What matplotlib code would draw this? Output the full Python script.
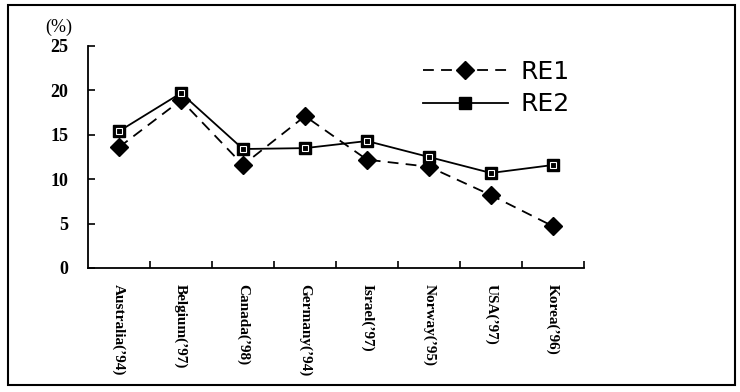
import matplotlib
matplotlib.use('Agg')
import matplotlib.pyplot as plt
from matplotlib.patches import Rectangle

countries = ["Australia(’94)", "Belgium(’97)", "Canada(’98)", "Germany(’94)",
             "Israel(’97)", "Norway(’95)", "USA(’97)", "Korea(’96)"]
re1 = [13.6, 18.9, 11.6, 17.1, 12.2, 11.4, 8.2, 4.7]
re2 = [15.4, 19.7, 13.4, 13.5, 14.3, 12.5, 10.7, 11.6]

fig = plt.figure(figsize=(7.4, 3.92), dpi=100)
ax = fig.add_axes([88 / 740, 1 - 268 / 392, 496 / 740, 222 / 392])

x = list(range(len(countries)))
ax.plot(x, re1, color='black', linestyle=(0, (6, 4)), linewidth=1.3,
        marker='D', markersize=9, markerfacecolor='black', markeredgecolor='black', label='RE1')
ax.plot(x, re2, color='black', linestyle='-', linewidth=1.3,
        marker='s', markersize=9, markerfacecolor='black', markeredgecolor='black', label='RE2')
ax.plot(x, re2, linestyle='none', marker='s', markersize=5, markerfacecolor='none',
        markeredgecolor='white', markeredgewidth=0.8)

ax.set_xlim(-0.5, len(countries) - 0.5)
ax.set_ylim(0, 25)
ax.set_yticks([0, 5, 10, 15, 20, 25])
ax.set_yticklabels(['0', '5', '10', '15', '20', '25'], fontfamily='Liberation Serif',
                   fontweight='bold', fontsize=13)
ax.set_xticks([i + 0.5 for i in x[:-1]] + [len(countries) - 0.5])
ax.set_xticklabels([])
ax.tick_params(axis='both', direction='in', length=5, width=1.2)
ax.tick_params(axis='y', pad=14)
for i, c in enumerate(countries):
    ax.text(i, -0.07, c, transform=ax.get_xaxis_transform(), rotation=270,
            ha='center', va='top', fontfamily='Liberation Serif', fontweight='bold', fontsize=11)

for s in ['top', 'right']:
    ax.spines[s].set_visible(False)
for s in ['left', 'bottom']:
    ax.spines[s].set_linewidth(1.3)

fig.text(45 / 740, 1 - 27 / 392, '(%)', fontfamily='Liberation Serif', fontsize=13,
         va='center', ha='left')

leg = ax.legend(loc='upper left', bbox_to_anchor=(0.63, 1.04), frameon=False,
                handlelength=3.4, handletextpad=0.5, labelspacing=0.35,
                prop={'family': 'DejaVu Sans', 'size': 18})

fig.add_artist(Rectangle((8 / 740, 1 - 385 / 392), 727 / 740, 380 / 392,
                         transform=fig.transFigure, fill=False, edgecolor='black', linewidth=1.5))

fig.savefig('out.png', dpi=100)
